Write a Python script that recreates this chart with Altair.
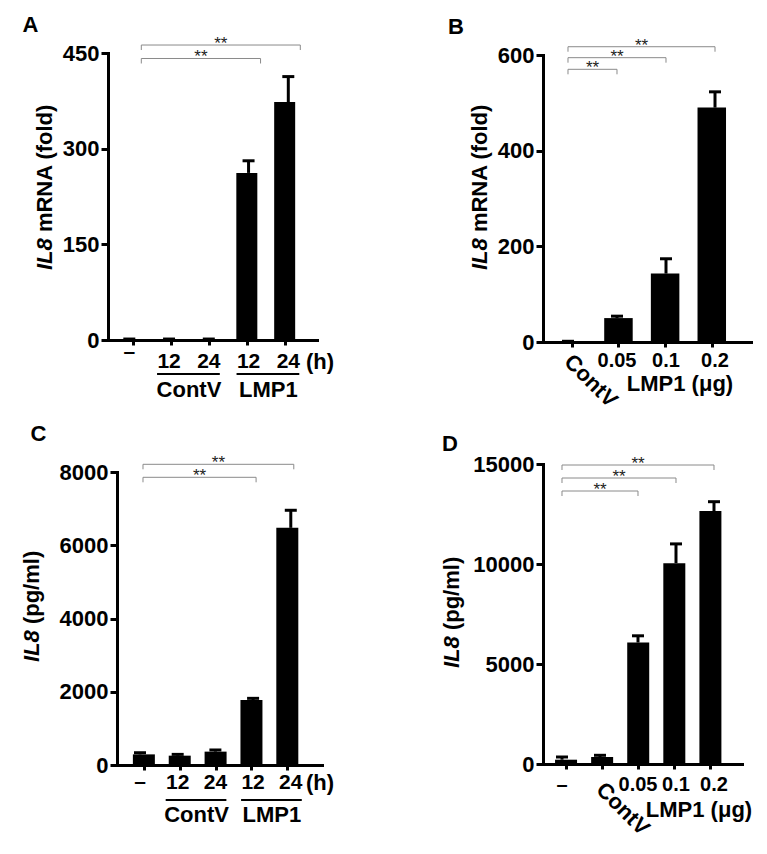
import altair as alt
import pandas as pd

FONT = "Liberation Sans"
W, H = 745, 830

# ---------------- data ----------------
a_labels = ["–", "12", "24", "12", "24"]
a_mean = [1, 1, 1, 262, 373]
a_err = [0.5, 0.5, 0.5, 19, 40]
a_ticks = [0, 150, 300, 450]
a_pairs = [(0, 4), (0, 3)]

b_labels = ["ContV", "0.05", "0.1", "0.2"]
b_mean = [1, 50, 143, 490]
b_err = [0.5, 4, 31, 33]
b_ticks = [0, 200, 400, 600]
b_pairs = [(0, 3), (0, 2), (0, 1)]

c_labels = ["–", "12", "24", "12", "24"]
c_mean = [290, 255, 365, 1775, 6475]
c_err = [45, 35, 45, 45, 480]
c_ticks = [0, 2000, 4000, 6000, 8000]
c_pairs = [(0, 4), (0, 3)]

d_labels = ["–", "ContV", "0.05", "0.1", "0.2"]
d_mean = [215, 350, 6075, 10040, 12650]
d_err = [135, 85, 335, 965, 465]
d_ticks = [0, 5000, 10000, 15000]
d_pairs = [(0, 4), (0, 3), (0, 2)]

group_names = ["ContV", "LMP1"]
group_start = [1, 3]
group_end = [2, 4]


def txt(text, x, y, size=22, weight="bold", style="normal", angle=0, align="center", baseline="middle"):
    kw = dict(font=FONT, fontSize=size, fontWeight=weight, fontStyle=style,
              align=align, baseline=baseline, color="black")
    if angle:
        kw["angle"] = angle
    return alt.Chart(pd.DataFrame({"t": [text]})).mark_text(**kw).encode(
        x=alt.value(x), y=alt.value(y), text="t:N")


def build(labels, means, errs, ticks, pairs, cfg):
    n = len(labels)
    kinds = []
    for lab in labels:
        if lab == "–":
            kinds.append("dash")
        elif lab == "ContV" and cfg.get("rot_y") is not None:
            kinds.append("rot")
        else:
            kinds.append("n")
    df = pd.DataFrame({"i": list(range(n)), "label": labels, "mean": means,
                       "err": errs, "kind": kinds})
    df["top"] = df["mean"] + df["err"]

    xs = alt.Scale(domain=list(cfg["xd"]), range=list(cfg["xr"]), nice=False, zero=False)
    ys = alt.Scale(domain=[0, ticks[-1]], range=list(cfg["yr"]), nice=False, zero=False)
    yaxis = alt.Axis(orient="left", offset=-cfg["xr"][0], values=ticks, format="d",
                     grid=False, title=None, domainColor="black", domainWidth=3,
                     domainCap="square", tickColor="black", tickWidth=3, tickSize=7,
                     labelFont=FONT, labelFontSize=22, labelFontWeight="bold",
                     labelColor="black", labelPadding=2)
    xaxis = alt.Axis(orient="bottom", offset=cfg["yr"][0] - H, values=list(range(n)),
                     labels=False, grid=False, title=None, domainColor="black",
                     domainWidth=3, domainCap="square", tickColor="black",
                     tickWidth=3, tickSize=5)

    def X(f):
        return alt.X(f, scale=xs, axis=None)

    def Y(f):
        return alt.Y(f, scale=ys, axis=None)

    base = alt.Chart(df)
    layers = []
    layers.append(base.mark_bar(color="black", size=cfg["bw"], orient="vertical").encode(
        x=alt.X("i:Q", scale=xs, axis=xaxis), y=alt.Y("mean:Q", scale=ys, axis=yaxis)))
    layers.append(base.mark_rule(color="black", strokeWidth=3).encode(
        x=X("i:Q"), y=Y("mean:Q"), y2="top:Q"))
    layers.append(base.mark_rule(color="black", strokeWidth=3, xOffset=-6, x2Offset=6).encode(
        x=X("i:Q"), x2="i:Q", y=Y("top:Q")))

    # category labels
    lab_kw = dict(font=FONT, fontSize=cfg["lab_size"], fontWeight="bold", color="black",
                  align="center", baseline="middle")
    layers.append(base.transform_filter(alt.datum.kind == "n").mark_text(**lab_kw).encode(
        x=X("i:Q"), y=alt.value(cfg["label_y"]), text="label:N"))
    layers.append(base.transform_filter(alt.datum.kind == "dash").mark_text(**lab_kw).encode(
        x=X("i:Q"), y=alt.value(cfg["dash_y"]), text="label:N"))
    if cfg.get("rot_y") is not None:
        rk = dict(lab_kw)
        rk.update(align="left", angle=45, fontSize=22)
        layers.append(base.transform_filter(alt.datum.kind == "rot").mark_text(**rk).encode(
            x=X("i:Q"), y=alt.value(cfg["rot_y"]), text="label:N"))

    # groups
    if cfg.get("under_y") is not None:
        gdf = pd.DataFrame({"g": group_names, "s": group_start, "e": group_end})
        gdf["m"] = (gdf["s"] + gdf["e"]) / 2
        gb = alt.Chart(gdf)
        layers.append(gb.mark_rule(color="black", strokeWidth=2, xOffset=-12, x2Offset=11).encode(
            x=X("s:Q"), x2="e:Q", y=alt.value(cfg["under_y"])))
        layers.append(gb.mark_text(**dict(lab_kw, fontSize=22)).encode(
            x=X("m:Q"), y=alt.value(cfg["group_y"]), text="g:N"))

    # significance brackets
    drop = 5 * ticks[-1] / (cfg["yr"][0] - cfg["yr"][1])
    bdf = pd.DataFrame({"i0": [p[0] for p in pairs], "i1": [p[1] for p in pairs],
                        "lev": cfg["levels"], "s": ["**"] * len(pairs)})
    bdf["lo"] = bdf["lev"] - drop
    bdf["mid"] = (bdf["i0"] + bdf["i1"]) / 2
    bb = alt.Chart(bdf)
    off = cfg["boff"]
    gray = "#8a8a8a"
    layers.append(bb.mark_rule(color=gray, strokeWidth=1, xOffset=off, x2Offset=off).encode(
        x=X("i0:Q"), x2="i1:Q", y=Y("lev:Q")))
    layers.append(bb.mark_rule(color=gray, strokeWidth=1, xOffset=off).encode(
        x=X("i0:Q"), y=Y("lev:Q"), y2="lo:Q"))
    layers.append(bb.mark_rule(color=gray, strokeWidth=1, xOffset=off).encode(
        x=X("i1:Q"), y=Y("lev:Q"), y2="lo:Q"))
    layers.append(bb.mark_text(font=FONT, fontSize=17, color="#222", dx=off, dy=4,
                               align="center", baseline="alphabetic").encode(
        x=X("mid:Q"), y=Y("lev:Q"), text="s:N"))

    # y title (italic gene name + rest)
    tx, tb = cfg["title_x"], cfg["title_bottom"]
    layers.append(txt("IL8", tx, tb, style="italic", angle=270, align="left"))
    layers.append(txt(cfg["title_rest"], tx, tb - 31.8 - 6.1, angle=270, align="left"))
    # panel letter
    lt, lx, ly = cfg["letter"]
    layers.append(txt(lt, lx, ly))
    for (t, x, y) in cfg.get("extra", []):
        layers.append(txt(t, x, y))
    return layers


A = build(a_labels, a_mean, a_err, a_ticks, a_pairs, dict(
    xr=(100, 309), xd=(-0.536, 4.722), yr=(332, 45), bw=21, lab_size=21,
    levels=[462.5, 441.4], boff=12, label_y=354, dash_y=344,
    under_y=366, group_y=382, title_x=37, title_bottom=262, title_rest="mRNA (fold)",
    letter=("A", 22.5, 16.5), extra=[("(h)", 312, 354)]))

B = build(b_labels, b_mean, b_err, b_ticks, b_pairs, dict(
    xr=(535, 744), xd=(-0.51, 3.755), yr=(334, 47), bw=28.5, lab_size=20,
    levels=[617.3, 594.4, 570.1], boff=0, label_y=353, dash_y=353, rot_y=350,
    title_x=472, title_bottom=262, title_rest="mRNA (fold)",
    letter=("B", 448, 18.5), extra=[("LMP1 (μg)", 672, 376)]))

C = build(c_labels, c_mean, c_err, c_ticks, c_pairs, dict(
    xr=(109, 314), xd=(-0.61, 4.828), yr=(757, 464), bw=22, lab_size=21,
    levels=[8210, 7855], boff=3, label_y=775, dash_y=774,
    under_y=792, group_y=807, title_x=24, title_bottom=654, title_rest="(pg/ml)",
    letter=("C", 30.5, 425.5), extra=[("(h)", 312, 775)]))

D = build(d_labels, d_mean, d_err, d_ticks, d_pairs, dict(
    xr=(535, 734), xd=(-0.5, 4.737), yr=(756, 456), bw=22, lab_size=20,
    levels=[14950, 14300, 13650], boff=0, label_y=777, dash_y=777, rot_y=778,
    title_x=444, title_bottom=660, title_rest="(pg/ml)",
    letter=("D", 442, 435.5), extra=[("LMP1 (μg)", 691, 802)]))

chart = alt.layer(*(A + B + C + D)).resolve_scale(
    x="independent", y="independent"
).properties(width=W, height=H, padding=0, background="white").configure_view(stroke=None)

chart.save("out.html", embed_options={"renderer": "svg", "actions": False})
